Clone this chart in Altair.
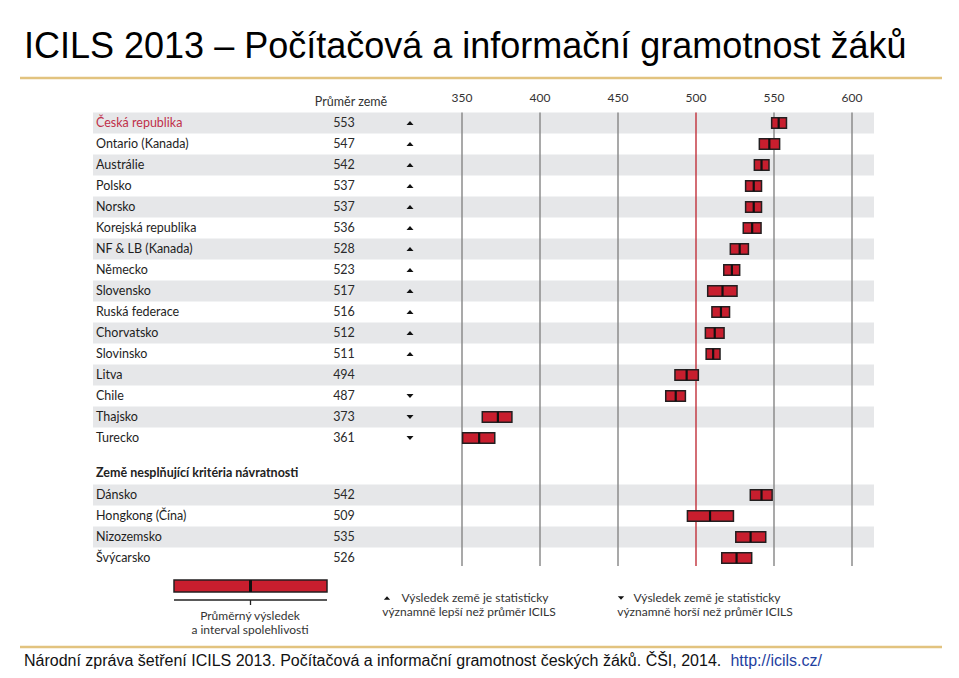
import altair as alt
import pandas as pd

# ---------------- data ----------------
names = ["Česká republika", "Ontario (Kanada)", "Austrálie", "Polsko", "Norsko",
         "Korejská republika", "NF & LB (Kanada)", "Německo", "Slovensko",
         "Ruská federace", "Chorvatsko", "Slovinsko", "Litva", "Chile",
         "Thajsko", "Turecko"]
means = [553, 547, 542, 537, 537, 536, 528, 523, 517, 516, 512, 511, 494, 487, 373, 361]
ci_lo = [548.5, 540.6, 537.4, 531.8, 531.8, 530.3, 522.0, 517.8, 507.5, 510.2,
         506.0, 506.5, 486.5, 480.6, 363.0, 350.4]
ci_hi = [558.0, 553.6, 546.8, 542.0, 542.0, 541.7, 533.6, 528.0, 526.3, 521.5,
         518.0, 515.4, 501.5, 493.2, 382.0, 371.0]
signif = ["up"] * 12 + ["none", "down", "down", "down"]

extra_names = ["Dánsko", "Hongkong (Čína)", "Nizozemsko", "Švýcarsko"]
extra_means = [542, 509, 535, 526]
extra_lo = [534.8, 494.5, 525.5, 516.5]
extra_hi = [548.8, 524.0, 544.7, 535.7]

ticks = [350, 400, 450, 500, 550, 600]

title = "ICILS 2013 – Počítačová a informační gramotnost žáků"
footer = "Národní zpráva šetření ICILS 2013. Počítačová a informační gramotnost českých žáků. ČŠI, 2014."
footer_url = "http://icils.cz/"

# ---------------- layout ----------------
W, H = 943, 662
PX = 1.56          # px per score point
X350 = 454         # chart x of score 350
ROW0, ROWH = 115, 21

xs = alt.Scale(domain=[350 - X350 / PX, 350 + (W - X350) / PX], nice=False, zero=False)
ys = alt.Scale(domain=[-ROW0 / ROWH, (H - ROW0) / ROWH], nice=False, zero=False, reverse=True)

rows = []
for i, n in enumerate(names):
    rows.append(dict(name=n, mean=means[i], lo=ci_lo[i], hi=ci_hi[i], sig=signif[i],
                     pos=i, band=int(i % 2 == 0), cz=int(i == 0)))
for j, n in enumerate(extra_names):
    rows.append(dict(name=n, mean=extra_means[j], lo=extra_lo[j], hi=extra_hi[j], sig="none",
                     pos=17.71 + j, band=int(j % 2 == 0), cz=0))
df = pd.DataFrame(rows)
tick_df = pd.DataFrame({"tick": ticks})
one = pd.DataFrame({"k": [0]})

BODY = "Lato"
FS = 12.5
Y = alt.Y("pos:Q", scale=ys, axis=None)


def label(txt, x, y, **kw):
    return alt.Chart(one).mark_text(text=txt, **kw).encode(x=alt.value(x), y=alt.value(y))


def hrule(x1, x2, y, color, w):
    return alt.Chart(one).mark_rule(color=color, strokeWidth=w).encode(
        x=alt.value(x1), x2=alt.value(x2), y=alt.value(y))


base = alt.Chart(df)

bands = base.transform_filter("datum.band == 1").transform_calculate(
    b0="datum.pos - 0.5", b1="datum.pos + 0.5"
).mark_rect(color="#e6e7e9").encode(
    x=alt.value(85), x2=alt.value(866),
    y=alt.Y("b0:Q", scale=ys, axis=None), y2="b1:Q")

grid = alt.Chart(tick_df).mark_rule(strokeWidth=1.4).encode(
    x=alt.X("tick:Q", scale=xs, axis=None),
    y=alt.value(104.5), y2=alt.value(558),
    color=alt.condition("datum.tick == 500", alt.value("#c0303a"), alt.value("#858585")))

tick_labels = alt.Chart(tick_df).mark_text(font=BODY, fontSize=12, color="#333333",
                                           baseline="middle").encode(
    x=alt.X("tick:Q", scale=xs, axis=None), y=alt.value(90), text="tick:Q")

bars = base.transform_calculate(y0="datum.pos - 0.25", y1="datum.pos + 0.25").mark_rect(
    color="#c81e2e", stroke="#231f20", strokeWidth=1.5).encode(
    x=alt.X("lo:Q", scale=xs, axis=None), x2="hi:Q",
    y=alt.Y("y0:Q", scale=ys, axis=None), y2="y1:Q")

mean_lines = base.transform_calculate(y0="datum.pos - 0.25", y1="datum.pos + 0.25").mark_rule(
    color="#111111", strokeWidth=2.2).encode(
    x=alt.X("mean:Q", scale=xs, axis=None),
    y=alt.Y("y0:Q", scale=ys, axis=None), y2="y1:Q")

name_text = base.mark_text(font=BODY, fontSize=FS, align="left", baseline="middle").encode(
    x=alt.value(88), y=Y, text="name:N",
    color=alt.condition("datum.cz == 1", alt.value("#c0304a"), alt.value("#1e1e1e")))

value_text = base.mark_text(font=BODY, fontSize=FS, align="center", baseline="middle",
                            color="#2a2a2a").encode(
    x=alt.value(336), y=Y, text="mean:Q")

UP = "M-1,0.55L1,0.55L0,-0.55Z"
DOWN = "M-1,-0.55L1,-0.55L0,0.55Z"
arrows = base.transform_filter("datum.sig != 'none'").mark_point(
    filled=True, size=49, opacity=1, color="#111111").encode(
    x=alt.value(402), y=Y,
    shape=alt.Shape("sig:N", scale=alt.Scale(domain=["up", "down"], range=[UP, DOWN]),
                    legend=None))

LFS = 12
deco = [
    label(title, 16, 50, font="Liberation Sans", fontSize=36, align="left",
          baseline="alphabetic", color="#000000"),
    hrule(12, 934, 70, "#e2c37f", 2.5),
    label("Průměr země", 343, 94, font=BODY, fontSize=FS, align="center",
          baseline="middle", color="#333333"),
    label("Země nesplňující kritéria návratnosti", 88, 465, font=BODY, fontSize=FS,
          fontWeight="bold", align="left", baseline="middle", color="#222222"),
    # legend: bar + interval
    alt.Chart(one).mark_rect(color="#c81e2e", stroke="#231f20", strokeWidth=1.5).encode(
        x=alt.value(166), x2=alt.value(319), y=alt.value(572), y2=alt.value(584)),
    alt.Chart(one).mark_rule(color="#111111", strokeWidth=3).encode(
        x=alt.value(242.5), y=alt.value(572), y2=alt.value(584)),
    hrule(166, 319, 592, "#222222", 1.3),
    alt.Chart(one).mark_rule(color="#222222", strokeWidth=1.3).encode(
        x=alt.value(242.5), y=alt.value(592), y2=alt.value(597)),
    label("Průměrný výsledek", 242, 608, font=BODY, fontSize=LFS, align="center",
          baseline="middle", color="#333333"),
    label("a interval spolehlivosti", 242, 622, font=BODY, fontSize=LFS, align="center",
          baseline="middle", color="#333333"),
    # legend: significance
    alt.Chart(one).mark_point(filled=True, size=40, opacity=1, color="#111111",
                              shape=UP).encode(x=alt.value(379), y=alt.value(590)),
    label("Výsledek země je statisticky", 467, 590, font=BODY, fontSize=LFS,
          align="center", baseline="middle", color="#333333"),
    label("významně lepší než průměr ICILS", 461, 604, font=BODY, fontSize=LFS,
          align="center", baseline="middle", color="#333333"),
    alt.Chart(one).mark_point(filled=True, size=40, opacity=1, color="#111111",
                              shape=DOWN).encode(x=alt.value(613), y=alt.value(590)),
    label("Výsledek země je statisticky", 699, 590, font=BODY, fontSize=LFS,
          align="center", baseline="middle", color="#333333"),
    label("významně horší než průměr ICILS", 697, 604, font=BODY, fontSize=LFS,
          align="center", baseline="middle", color="#333333"),
    # footer
    hrule(12, 934, 639, "#e2c37f", 2.5),
    label(footer, 16, 658, font="Liberation Sans", fontSize=16, align="left",
          baseline="alphabetic", color="#111111"),
    label(footer_url, 814, 658, font="Liberation Sans", fontSize=16, align="right",
          baseline="alphabetic", color="#1f3fa0"),
]

chart = alt.layer(bands, grid, tick_labels, bars, mean_lines, name_text, value_text,
                  arrows, *deco).properties(
    width=W, height=H, padding=0, autosize=alt.AutoSizeParams(type="none")
).configure_view(strokeWidth=0)

chart.save("out.html", embed_options={"renderer": "svg", "actions": False})
